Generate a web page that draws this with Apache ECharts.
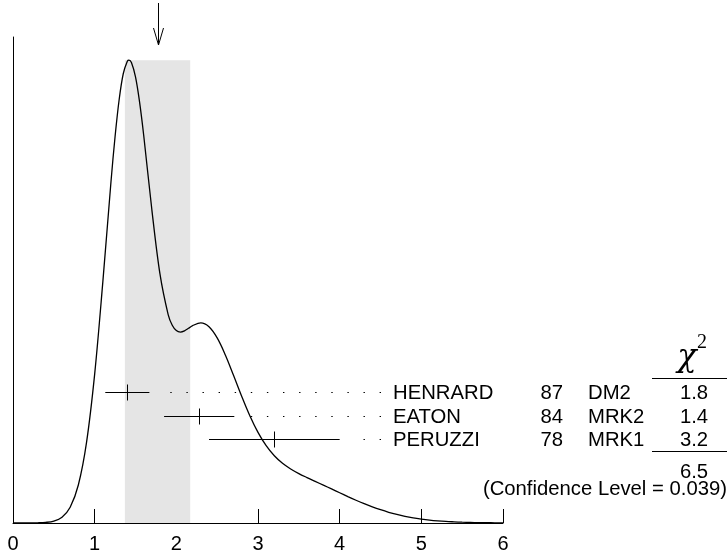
<!DOCTYPE html>
<html><head><meta charset="utf-8">
<script src="https://cdn.jsdelivr.net/npm/echarts@6/dist/echarts.min.js"></script>
<style>html,body{margin:0;padding:0;background:#fff}#c{width:727px;height:554px}</style>
</head><body><div id="c"></div>
<script>
// ---- data ----
const xTicks = [0, 1, 2, 3, 4, 5, 6];
const curveX = [0,0.1,0.2,0.3,0.4,0.5,0.6,0.7,0.8,0.9,1.0,1.1,1.2,1.25,1.3,1.35,1.4,1.42,1.45,1.5,1.55,1.6,1.7,1.8,1.9,1.95,2.0,2.05,2.1,2.15,2.2,2.3,2.4,2.5,2.6,2.7,2.8,2.9,3.0,3.1,3.2,3.3,3.4,3.5,3.6,3.7,3.8,3.9,4.0,4.1,4.2,4.3,4.4,4.5,4.6,4.7,4.8,4.9,5.0,5.1,5.2,5.3,5.4,5.5,5.6,5.7,5.8,5.9,6.0];
const curveY = [0.0000,0.0001,0.0001,0.0004,0.0013,0.0041,0.0124,0.0340,0.0821,0.1737,0.3217,0.5209,0.7377,0.8351,0.9150,0.9706,0.9977,1.0000,0.9948,0.9639,0.9093,0.8382,0.6772,0.5375,0.4502,0.4272,0.4157,0.4126,0.4152,0.4206,0.4265,0.4323,0.4239,0.3998,0.3631,0.3192,0.2739,0.2317,0.1957,0.1670,0.1452,0.1289,0.1167,0.1068,0.0982,0.0900,0.0818,0.0736,0.0653,0.0571,0.0492,0.0418,0.0349,0.0287,0.0232,0.0185,0.0145,0.0112,0.0086,0.0064,0.0047,0.0034,0.0025,0.0017,0.0012,0.0008,0.0006,0.0004,0.0002];
const names   = ['HENRARD', 'EATON', 'PERUZZI'];
const years   = ['87', '84', '78'];
const collabs = ['DM2', 'MRK2', 'MRK1'];
const values  = [1.40, 2.28, 3.20];
const errors  = [0.27, 0.43, 0.80];
const chi2    = ['1.8', '1.4', '3.2'];
const chi2Total = '6.5';
const confidenceLevel = '0.039';
const fitMean = 1.77;
const fitError = 0.40;

// ---- chart ----
const FONT = '20.3px "Liberation Sans", Arial, sans-serif';
const chart = echarts.init(document.getElementById('c'), null, {renderer: 'canvas'});
const peak = Math.max.apply(null, curveY);

function renderMeas(params, api) {
  const cs = params.coordSys;
  const i = api.value(2);
  const v = api.value(0), e = api.value(1);
  const bottom = cs.y + cs.height;
  const right = cs.x + cs.width;
  const y = Math.round(bottom - 131 + 23.5 * i) + 0.5;
  const xl = api.coord([v - e, 0])[0];
  const xr = api.coord([v + e, 0])[0];
  const xc = Math.round(api.coord([v, 0])[0]) + 0.5;
  const nameX = right - 110;
  const kids = [
    {type: 'line', shape: {x1: xl, y1: y, x2: xr, y2: y}, style: {stroke: '#000', lineWidth: 1}},
    {type: 'line', shape: {x1: xc, y1: y - 8, x2: xc, y2: y + 8}, style: {stroke: '#000', lineWidth: 1}},
    {type: 'text', style: {text: names[i], x: nameX, y: y + 1, fill: '#000', font: FONT, align: 'left', verticalAlign: 'middle'}},
    {type: 'text', style: {text: years[i], x: right + 60, y: y + 1, fill: '#000', font: FONT, align: 'right', verticalAlign: 'middle'}},
    {type: 'text', style: {text: collabs[i], x: right + 85, y: y + 1, fill: '#000', font: FONT, align: 'left', verticalAlign: 'middle'}},
    {type: 'text', style: {text: chi2[i], x: right + 191, y: y + 1, fill: '#000', font: FONT, align: 'center', verticalAlign: 'middle'}}
  ];
  const dotStart = nameX - 12, dotEnd = xr + 13;
  if (dotStart > dotEnd) {
    kids.push({type: 'line', shape: {x1: dotStart, y1: y, x2: dotEnd, y2: y},
      style: {stroke: '#000', lineWidth: 1.2, lineDash: [1.4, 14.7], lineCap: 'butt'}});
  }
  return {type: 'group', children: kids};
}

chart.setOption({
  animation: false,
  backgroundColor: '#fff',
  grid: {left: 13, right: 224, top: 37, bottom: 31, containLabel: false, outerBoundsMode: 'none'},
  xAxis: {
    type: 'value', min: xTicks[0], max: xTicks[xTicks.length - 1], interval: 1,
    axisLine: {show: true, onZero: false, lineStyle: {color: '#000', width: 1}},
    axisTick: {show: true, inside: true, length: 14, lineStyle: {color: '#000', width: 1}},
    axisLabel: {show: true, color: '#000', fontSize: 20, fontFamily: '"Liberation Sans", Arial, sans-serif', margin: 11,
      formatter: function (v) { return String(v); }},
    splitLine: {show: false}
  },
  yAxis: {
    type: 'value', min: 0, max: 1.05,
    axisLine: {show: true, onZero: false, lineStyle: {color: '#000', width: 1}},
    axisTick: {show: false}, axisLabel: {show: false}, splitLine: {show: false}
  },
  series: [
    {
      type: 'line', data: curveX.map((x, k) => [x, curveY[k]]),
      showSymbol: false, symbol: 'none', smooth: 0.35, clip: false, z: 3,
      lineStyle: {color: '#000', width: 1.3},
      markArea: {
        silent: true,
        itemStyle: {color: '#e5e5e5', borderWidth: 0},
        data: [[{xAxis: fitMean - fitError, yAxis: 0}, {xAxis: fitMean + fitError, yAxis: peak}]]
      }
    },
    {
      type: 'custom', renderItem: renderMeas, clip: false, z: 4,
      data: values.map((v, i) => [v, errors[i], i])
    }
  ]
});

// arrow marking the fitted mean, and the chi-square summary
const ax = Math.round(chart.convertToPixel({gridIndex: 0}, [fitMean, 0])[0]) + 0.5;
const gTop = 37;
const W = chart.getWidth();
chart.setOption({
  graphic: [
    {type: 'line', shape: {x1: ax, y1: gTop - 34, x2: ax, y2: gTop + 8}, style: {stroke: '#000', lineWidth: 1}},
    {type: 'polyline', shape: {points: [[ax - 5, gTop - 9], [ax, gTop + 8], [ax + 5, gTop - 9]]}, style: {stroke: '#000', lineWidth: 1, fill: null}},
    {type: 'text', style: {text: 'χ', x: 687, y: 358, fill: '#000', font: 'italic 32px "DejaVu Serif", "Liberation Serif", serif', align: 'center', verticalAlign: 'middle'}},
    {type: 'text', style: {text: '2', x: 702, y: 342.5, fill: '#000', font: '20px "Liberation Serif", "DejaVu Serif", serif', align: 'center', verticalAlign: 'middle'}},
    {type: 'line', shape: {x1: 652, y1: 378.5, x2: W, y2: 378.5}, style: {stroke: '#000', lineWidth: 1}},
    {type: 'line', shape: {x1: 652, y1: 451.5, x2: W, y2: 451.5}, style: {stroke: '#000', lineWidth: 1}},
    {type: 'text', style: {text: chi2Total, x: 694, y: 472, fill: '#000', font: FONT, align: 'center', verticalAlign: 'middle'}},
    {type: 'text', style: {text: '(Confidence Level = ' + confidenceLevel + ')', x: W, y: 489, fill: '#000', font: FONT, align: 'right', verticalAlign: 'middle'}}
  ]
});
</script></body></html>
